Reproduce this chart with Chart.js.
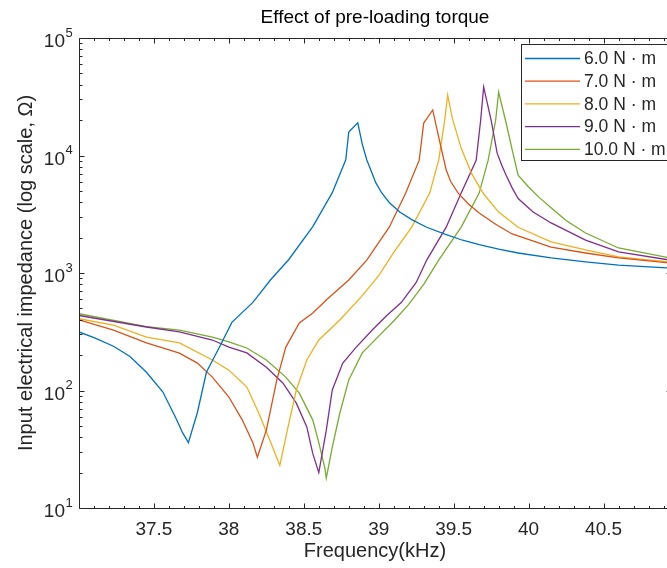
<!DOCTYPE html>
<html>
<head>
<meta charset="utf-8">
<script src="https://cdn.jsdelivr.net/npm/chart.js@4.4.1/dist/chart.umd.min.js"></script>
<style>
  html, body { margin: 0; padding: 0; overflow: hidden; background: #fff; }
  #wrap { width: 700px; height: 568px; }
</style>
</head>
<body>
<div id="wrap"><canvas id="impChart" width="700" height="568"></canvas></div>
<script>
// impedance readings per pre-loading torque, frequency in kHz, impedance in ohm
const seriesLabels = ["6.0 N · m", "7.0 N · m", "8.0 N · m", "9.0 N · m", "10.0 N · m"];
const seriesColors = ["#0072BD", "#D95319", "#EDB120", "#7E2F8E", "#77AC30"];

const freq6 = [37.0, 37.1, 37.23, 37.34, 37.45, 37.56, 37.65, 37.69, 37.73, 37.79, 37.85, 37.94, 38.02, 38.16, 38.28, 38.40, 38.56, 38.69, 38.78, 38.80, 38.86, 38.89, 38.92, 38.98, 39.02, 39.07, 39.14, 39.22, 39.32, 39.45, 39.56, 39.67, 39.8, 39.93, 40.15, 40.38, 40.6, 40.95];
const imp6  = [315, 282, 238, 195, 143, 97, 57, 44, 36, 65, 143, 238, 380, 562, 880, 1303, 2483, 4830, 9200, 15850, 18970, 12500, 9200, 5870, 4800, 3980, 3300, 2845, 2450, 2123, 1900, 1746, 1600, 1480, 1343, 1242, 1169, 1100];

const freq7 = [37.0, 37.23, 37.45, 37.67, 37.79, 37.89, 38.0, 38.09, 38.16, 38.19, 38.25, 38.32, 38.38, 38.47, 38.56, 38.65, 38.80, 38.92, 39.07, 39.18, 39.27, 39.30, 39.36, 39.40, 39.45, 39.48, 39.53, 39.60, 39.67, 39.78, 39.89, 40.15, 40.38, 40.6, 40.95];
const imp7  = [400, 327, 254, 208, 171, 130, 88, 56, 36, 27, 46, 123, 234, 375, 457, 590, 873, 1288, 2455, 4786, 9120, 18900, 24400, 14350, 7530, 6000, 4786, 3850, 3236, 2600, 2150, 1660, 1480, 1343, 1212];

const freq8 = [37.0, 37.23, 37.45, 37.67, 37.89, 38.0, 38.12, 38.20, 38.28, 38.34, 38.39, 38.45, 38.52, 38.60, 38.74, 38.88, 39.0, 39.1, 39.22, 39.34, 39.40, 39.44, 39.46, 39.49, 39.55, 39.62, 39.70, 39.80, 39.93, 40.15, 40.38, 40.6, 40.95];
const imp8  = [408, 360, 285, 254, 182, 149, 107, 64, 36, 23, 46, 101, 182, 269, 398, 620, 950, 1500, 2455, 4786, 9120, 19950, 32700, 21000, 11500, 7000, 4700, 3300, 2450, 1840, 1570, 1370, 1238];

const freq9 = [37.0, 37.45, 37.67, 37.89, 38.0, 38.12, 38.25, 38.36, 38.45, 38.52, 38.56, 38.60, 38.65, 38.69, 38.76, 38.85, 38.96, 39.05, 39.15, 39.25, 39.32, 39.45, 39.55, 39.65, 39.68, 39.70, 39.75, 39.79, 39.82, 39.85, 39.89, 39.93, 40.03, 40.15, 40.38, 40.6, 40.95];
const imp9  = [435, 347, 315, 269, 234, 209, 158, 116, 78, 49, 29, 20, 46, 101, 171, 234, 330, 430, 560, 830, 1288, 2455, 4786, 9120, 19950, 38300, 19950, 10470, 8300, 6800, 5300, 4300, 3300, 2667, 1906, 1514, 1284];

const freq10 = [37.0, 37.45, 37.67, 37.89, 38.0, 38.12, 38.25, 38.38, 38.47, 38.56, 38.60, 38.64, 38.65, 38.69, 38.74, 38.80, 38.89, 39.0, 39.1, 39.2, 39.3, 39.40, 39.55, 39.67, 39.73, 39.78, 39.80, 39.85, 39.89, 39.93, 40.0, 40.07, 40.15, 40.25, 40.38, 40.6, 40.95];
const imp10  = [450, 350, 327, 285, 259, 230, 182, 130, 95, 56, 36, 22, 18, 33, 64, 123, 209, 290, 390, 540, 800, 1288, 2455, 4786, 9120, 19950, 34700, 18900, 11220, 6800, 5400, 4400, 3600, 2800, 2188, 1633, 1338];

const freqs = [freq6, freq7, freq8, freq9, freq10];
const imps = [imp6, imp7, imp8, imp9, imp10];

const axisColor = "#262626";
const fontFamily = '"Liberation Sans", Arial, sans-serif';
Chart.defaults.font.family = fontFamily;

const isHalf = v => Math.abs(v * 2 - Math.round(v * 2)) < 1e-6;
const isDecade = v => Math.abs(Math.log10(v) - Math.round(Math.log10(v))) < 1e-6;

// box around the axes with inward ticks (matlab look)
const frameTicks = {
    id: "frameTicks",
    afterDatasetsDraw(chart) {
        const { ctx, chartArea: a, scales: { x, y } } = chart;
        const L = Math.round(a.left) + 0.5, R = Math.round(a.right) + 0.5;
        const T = Math.round(a.top) + 0.5, B = Math.round(a.bottom) + 0.5;
        ctx.save();
        ctx.strokeStyle = axisColor;
        ctx.lineWidth = 1;
        ctx.beginPath();
        ctx.rect(L, T, R - L, B - T);
        x.ticks.forEach(t => {
            const px = Math.round(x.getPixelForValue(t.value)) + 0.5;
            const len = isHalf(t.value) ? 5 : 2.5;
            ctx.moveTo(px, B); ctx.lineTo(px, B - len);
            ctx.moveTo(px, T); ctx.lineTo(px, T + len);
        });
        y.ticks.forEach(t => {
            const py = Math.round(y.getPixelForValue(t.value)) + 0.5;
            const len = isDecade(t.value) ? 5 : 3;
            ctx.moveTo(L, py); ctx.lineTo(L + len, py);
            ctx.moveTo(R, py); ctx.lineTo(R - len, py);
        });
        ctx.stroke();

        // 10^n labels
        ctx.fillStyle = axisColor;
        ctx.textBaseline = "middle";
        y.ticks.filter(t => isDecade(t.value)).forEach(t => {
            const py = y.getPixelForValue(t.value);
            const e = Math.round(Math.log10(t.value));
            ctx.font = "19px " + fontFamily;
            ctx.textAlign = "right";
            ctx.fillText("10", 65, py + 4);
            ctx.font = "13px " + fontFamily;
            ctx.textAlign = "left";
            ctx.fillText(String(e), 65.5, py - 5);
        });
        ctx.restore();
    }
};

const boxLegend = {
    id: "boxLegend",
    afterDraw(chart) {
        const { ctx } = chart;
        const left = 521.5, top = 44.5, right = 676, bottom = 160.5;
        ctx.save();
        ctx.fillStyle = "#fff";
        ctx.fillRect(left, top, right - left, bottom - top);
        ctx.strokeStyle = axisColor;
        ctx.lineWidth = 1;
        ctx.strokeRect(left, top, right - left, bottom - top);
        ctx.font = "17.5px " + fontFamily;
        ctx.textBaseline = "middle";
        ctx.textAlign = "left";
        chart.data.datasets.forEach((ds, i) => {
            const cy = 58.5 + i * 22.7;
            ctx.strokeStyle = ds.borderColor;
            ctx.lineWidth = 1.3;
            ctx.beginPath();
            ctx.moveTo(525, cy);
            ctx.lineTo(580, cy);
            ctx.stroke();
            ctx.fillStyle = axisColor;
            ctx.fillText(ds.label, 584, cy + 1);
        });
        ctx.restore();
    }
};

const datasets = seriesLabels.map((label, i) => ({
    label,
    data: freqs[i].map((f, j) => ({ x: f, y: imps[i][j] })),
    borderColor: seriesColors[i],
    backgroundColor: seriesColors[i],
    borderWidth: 1.3,
    pointRadius: 0,
    tension: 0,
    fill: false
}));

const ctx = document.getElementById("impChart");

new Chart(ctx, {
    type: "line",
    data: { datasets },
    options: {
        responsive: false,
        animation: false,
        events: [],
        layout: { padding: { left: 0, right: 29, top: 0, bottom: 0 } },
        plugins: {
            legend: { display: false },
            tooltip: { enabled: false },
            title: {
                display: true,
                fullSize: false,
                text: "Effect of pre-loading torque",
                color: "#000",
                font: { size: 19, weight: "normal" },
                padding: { top: 6, bottom: 9.2 }
            }
        },
        scales: {
            x: {
                type: "linear",
                min: 37.0,
                max: 40.95,
                grid: { display: false, drawTicks: false },
                border: { display: false },
                afterBuildTicks: scale => {
                    const t = [];
                    for (let k = 371; k <= 409; k++) t.push({ value: k / 10 });
                    scale.ticks = t;
                },
                afterFit: scale => { scale.height = 60; },
                ticks: {
                    autoSkip: false,
                    maxRotation: 0,
                    padding: 10,
                    color: axisColor,
                    font: { size: 19 },
                    callback: v => isHalf(v) ? String(Math.round(v * 10) / 10) : ""
                },
                title: {
                    display: true,
                    text: "Frequency(kHz)",
                    color: axisColor,
                    font: { size: 20 },
                    padding: { top: 6, bottom: 5 }
                }
            },
            y: {
                type: "logarithmic",
                min: 10,
                max: 100000,
                grid: { display: false, drawTicks: false },
                border: { display: false },
                afterBuildTicks: scale => {
                    const t = [];
                    for (let d = 1; d <= 4; d++) {
                        for (let m = 1; m <= 9; m++) t.push({ value: m * Math.pow(10, d) });
                    }
                    t.push({ value: 100000 });
                    scale.ticks = t;
                },
                afterFit: scale => { scale.width = 79; },
                ticks: { display: false },
                title: {
                    display: true,
                    text: "Input electrical impedance (log scale, Ω)",
                    color: axisColor,
                    font: { size: 20 },
                    padding: { top: 14, bottom: 0 }
                }
            }
        }
    },
    plugins: [frameTicks, boxLegend]
});
</script>
</body>
</html>
